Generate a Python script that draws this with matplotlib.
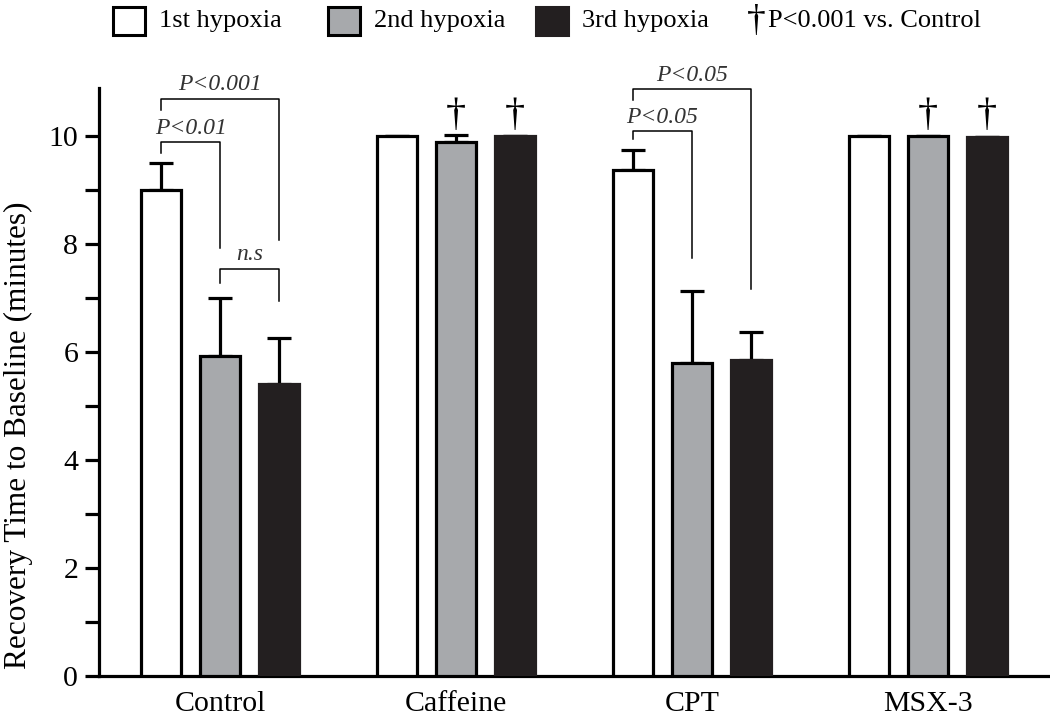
import matplotlib
matplotlib.use("Agg")
import matplotlib.pyplot as plt
import numpy as np
from matplotlib.patches import Rectangle

plt.rcParams['font.family'] = ['Liberation Serif', 'DejaVu Serif']

groups = ["Control", "Caffeine", "CPT", "MSX-3"]
series = ["1st hypoxia", "2nd hypoxia", "3rd hypoxia"]
first = [9.0, 10.0, 9.38, 10.0]
second = [5.93, 9.9, 5.8, 10.0]
third = [5.42, 10.0, 5.85, 9.98]
first_err = [0.5, 0.0, 0.36, 0.0]
second_err = [1.08, 0.12, 1.34, 0.0]
third_err = [0.84, 0.0, 0.52, 0.0]
dagger_marks = [(1, 1), (1, 2), (3, 1), (3, 2)]  # (group, series)

fills = ["white", "#a7a9ac", "#231f20"]
edges = ["black", "black", "#231f20"]

fig = plt.figure(figsize=(10.5, 7.18), dpi=100)
ax = fig.add_axes([0.0943, 0.0585, 0.9057, 0.8185])

x = np.arange(len(groups))
offsets = [-0.25, 0.0, 0.25]
width = 0.172
vals = [first, second, third]
errs = [first_err, second_err, third_err]

for i in range(3):
    xs = x + offsets[i]
    ax.bar(xs, vals[i], width, color=fills[i], edgecolor=edges[i], linewidth=2.3, zorder=3)
    ax.errorbar(xs, vals[i], yerr=[np.zeros(4), errs[i]], fmt='none', ecolor='black',
                elinewidth=2.3, capsize=8.5, capthick=2.3, zorder=2)

for g, s in dagger_marks:
    ax.text(x[g] + offsets[s], 10.05, "\u2020", ha='center', va='bottom', fontsize=29)


def bracket(x1, x2, top, left_bot, right_bot, label, lx=None):
    ax.plot([x1, x1, x2, x2], [left_bot, top, top, right_bot], color='black', lw=1.1,
            clip_on=False, zorder=4)
    if lx is None:
        lx = (x1 + x2) / 2
    ax.text(lx, top + 0.07, label, ha='center', va='bottom', fontsize=17,
            style='italic', color='#333333', clip_on=False)


bracket(-0.25, 0.0, 9.89, 9.70, 7.94, "P<0.01")
bracket(-0.25, 0.25, 10.70, 10.48, 8.07, "P<0.001")
bracket(0.0, 0.25, 7.54, 7.28, 6.95, "n.s")
bracket(1.75, 2.0, 10.09, 9.96, 7.74, "P<0.05")
bracket(1.75, 2.25, 10.87, 10.67, 7.17, "P<0.05")

ax.set_xlim(-0.513, 3.517)
ax.set_ylim(0, 10.89)
ax.set_yticks([0, 2, 4, 6, 8, 10])
ax.set_yticks([1, 3, 5, 7, 9], minor=True)
ax.set_xticks(x)
ax.set_xticklabels(groups)
ax.tick_params(axis='y', which='both', direction='out', length=10, width=2.3,
               labelsize=21.5, pad=5)
ax.tick_params(axis='x', length=0, labelsize=21.5, pad=11)
for side in ['top', 'right']:
    ax.spines[side].set_visible(False)
for side in ['left', 'bottom']:
    ax.spines[side].set_linewidth(2.3)
ax.set_ylabel("Recovery Time to Baseline (minutes)", fontsize=22.5)
ax.yaxis.set_label_coords(-0.069, 0.41)

# legend across the top
box_x = [113, 328, 536]
for i in range(3):
    fig.add_artist(Rectangle((box_x[i] / 1050, 1 - 35 / 718), 32 / 1050, 28 / 718,
                             transform=fig.transFigure, facecolor=fills[i],
                             edgecolor=edges[i] if i == 2 else 'black', linewidth=2.2))
    fig.text((box_x[i] + 46) / 1050, 1 - 21 / 718, series[i], ha='left', va='center',
             fontsize=19)
fig.text(756 / 1050, 1 - 31 / 718, "\u2020", ha='center', va='baseline', fontsize=27)
fig.text(768 / 1050, 1 - 21 / 718, "P<0.001 vs. Control", ha='left', va='center', fontsize=19)

fig.savefig("out.png", dpi=100)
